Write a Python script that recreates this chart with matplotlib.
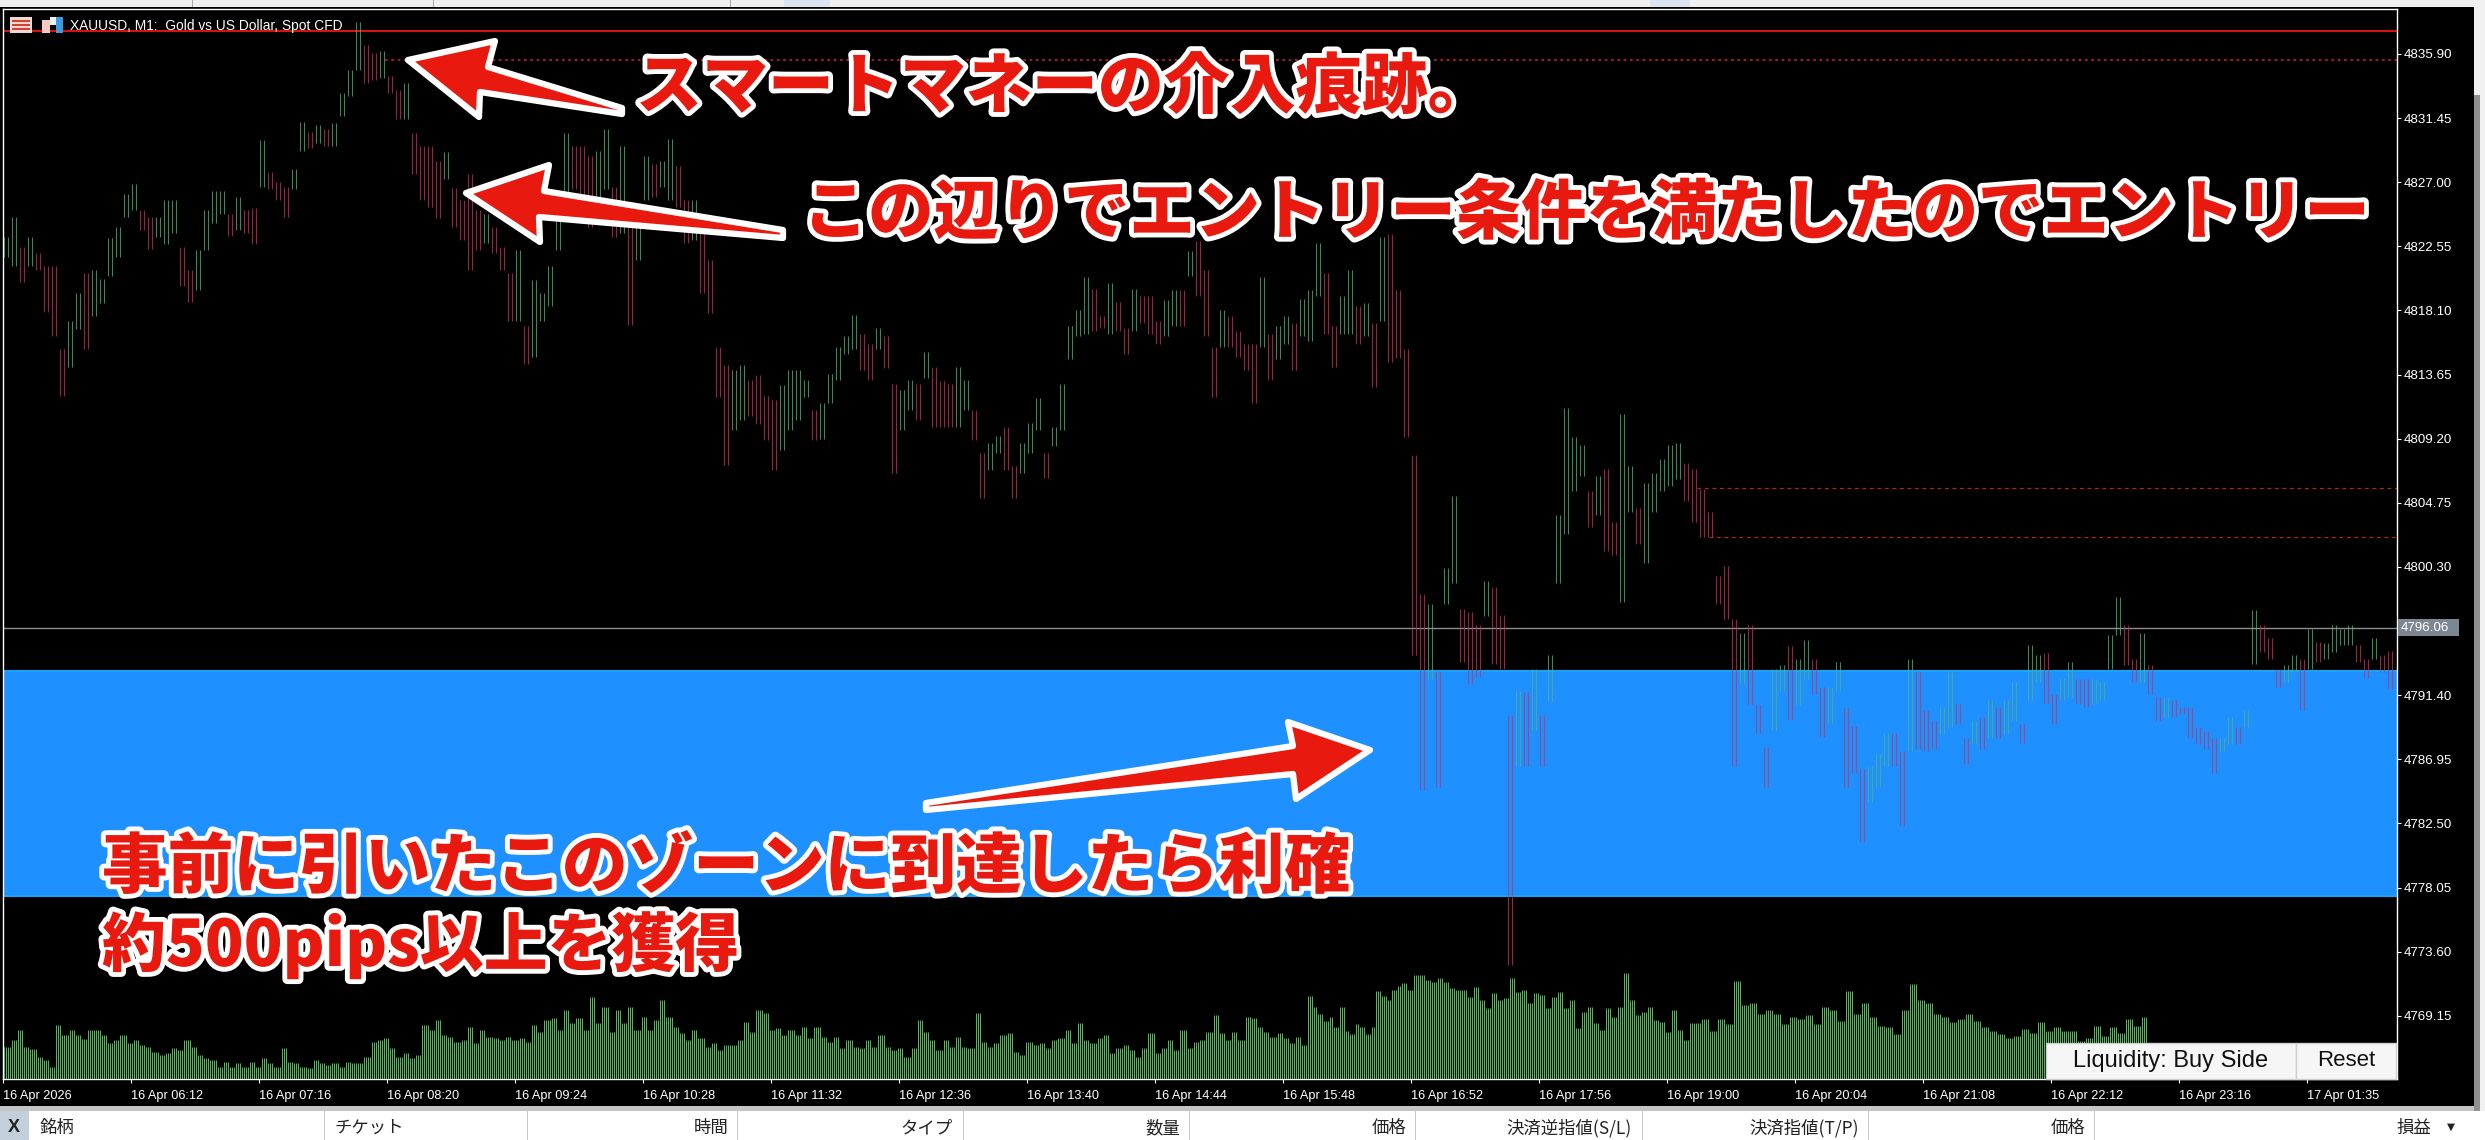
"""
XAUUSD M1 chart with the Japanese trade notes on top.
Prices were read off the picture for every 4th one minute bar, volume in small groups.
"""
import numpy as np
import matplotlib
matplotlib.use('Agg')
import matplotlib.pyplot as plt
from matplotlib.patches import Polygon, Rectangle
import matplotlib.patheffects as pe

JP_FONT = ['Noto Sans CJK JP', 'DejaVu Sans']
UI_FONT = 'Liberation Sans'

# high / low of every 4th bar
bar_high = [
    4823.2, 4824.6, 4822.5, 4823.2, 4822.1, 4821.2, 4821.2, 4815.4, 4817.4, 4819.3, 4820.7, 4820.9, 4820.3, 4823.1, 4823.9, 4826.2,
    4826.9, 4825.1, 4824.6, 4824.6, 4825.8, 4825.8, 4822.5, 4820.9, 4822.3, 4825.1, 4826.4, 4826.4, 4824.8, 4826.0, 4825.1, 4825.2,
    4829.9, 4827.7, 4827.0, 4826.7, 4827.9, 4831.2, 4830.5, 4831.0, 4830.7, 4831.1, 4833.2, 4834.8, 4838.1, 4836.5, 4836.0, 4836.1,
    4834.4, 4833.4, 4833.9, 4830.4, 4829.5, 4829.5, 4828.5, 4829.1, 4826.6, 4825.8, 4827.6, 4825.1, 4824.8, 4823.9, 4822.5, 4820.7,
    4822.3, 4817.0, 4820.2, 4819.3, 4821.2, 4824.6, 4830.4, 4829.5, 4829.5, 4828.8, 4829.2, 4830.7, 4826.7, 4829.5, 4823.9, 4824.8,
    4828.8, 4828.3, 4828.5, 4830.0, 4828.1, 4825.8, 4825.8, 4823.5, 4821.6, 4815.6, 4814.3, 4814.0, 4814.3, 4813.3, 4813.6, 4812.2,
    4811.9, 4812.9, 4814.0, 4814.0, 4813.3, 4811.2, 4811.7, 4813.7, 4815.6, 4816.3, 4817.8, 4816.5, 4815.8, 4816.9, 4816.3, 4813.0,
    4812.6, 4813.3, 4813.0, 4815.2, 4814.2, 4813.2, 4813.0, 4814.2, 4813.3, 4811.2, 4808.2, 4808.9, 4809.4, 4810.0, 4807.3, 4808.9,
    4810.3, 4812.0, 4808.2, 4810.0, 4813.0, 4817.0, 4818.1, 4820.4, 4819.6, 4817.7, 4820.0, 4818.7, 4816.9, 4819.6, 4819.1, 4819.1,
    4817.4, 4818.8, 4819.5, 4819.5, 4822.2, 4822.9, 4820.9, 4815.6, 4818.1, 4817.7, 4816.7, 4815.8, 4815.8, 4820.4, 4816.5, 4817.0,
    4817.7, 4817.2, 4818.9, 4819.5, 4822.8, 4820.7, 4817.0, 4819.1, 4820.9, 4818.4, 4818.6, 4817.2, 4823.2, 4823.4, 4819.5, 4815.4,
    4808.1, 4798.4, 4797.7, 4793.0, 4800.2, 4805.2, 4797.4, 4797.2, 4796.3, 4799.3, 4798.9, 4797.0, 4790.0, 4791.7, 4791.6, 4793.2,
    4790.0, 4794.2, 4803.9, 4811.3, 4809.3, 4808.8, 4805.6, 4806.6, 4807.1, 4803.4, 4810.9, 4807.3, 4804.4, 4806.1, 4806.8, 4807.8,
    4808.8, 4808.9, 4807.5, 4807.1, 4805.7, 4804.1, 4799.7, 4800.4, 4796.7, 4795.7, 4796.3, 4790.7, 4787.8, 4793.2, 4793.5, 4794.8,
    4793.9, 4795.2, 4793.9, 4792.0, 4792.0, 4793.7, 4790.5, 4789.3, 4786.3, 4786.5, 4787.3, 4788.8, 4788.8, 4787.5, 4793.9, 4793.0,
    4790.4, 4789.6, 4790.6, 4793.0, 4790.8, 4788.4, 4789.6, 4789.9, 4791.1, 4790.6, 4791.1, 4792.3, 4789.4, 4794.9, 4794.2, 4794.3,
    4791.5, 4792.6, 4793.7, 4792.5, 4792.5, 4792.5, 4792.3, 4795.6, 4798.2, 4796.3, 4793.9, 4795.7, 4793.5, 4791.3, 4791.2, 4791.1,
    4790.6, 4790.6, 4789.2, 4788.9, 4788.4, 4788.4, 4789.9, 4789.2, 4790.4, 4797.3, 4796.3, 4795.4, 4793.2, 4793.5, 4794.2, 4793.9,
    4796.0, 4795.1, 4795.0, 4796.3, 4796.0, 4796.3, 4794.9, 4793.9, 4795.4, 4794.2, 4794.5,
]
bar_low = [
    4821.8, 4821.2, 4820.1, 4821.2, 4820.9, 4818.0, 4816.3, 4812.2, 4814.2, 4816.8, 4815.4, 4817.7, 4818.6, 4820.5, 4821.8, 4824.6,
    4825.1, 4823.7, 4822.4, 4823.2, 4822.7, 4823.5, 4819.8, 4818.7, 4819.5, 4822.3, 4824.2, 4824.8, 4823.3, 4823.7, 4823.5, 4822.7,
    4826.7, 4826.5, 4825.8, 4824.6, 4826.5, 4829.2, 4829.4, 4829.7, 4829.5, 4829.5, 4831.6, 4833.0, 4834.8, 4833.9, 4834.1, 4834.2,
    4833.2, 4831.4, 4831.4, 4827.6, 4825.8, 4825.3, 4824.5, 4827.2, 4823.9, 4823.0, 4820.9, 4822.3, 4822.8, 4822.1, 4820.9, 4817.4,
    4817.4, 4814.4, 4814.9, 4817.4, 4818.4, 4822.3, 4825.8, 4826.5, 4826.0, 4823.9, 4826.0, 4826.5, 4823.2, 4823.5, 4817.1, 4821.6,
    4825.8, 4826.0, 4826.7, 4825.8, 4825.3, 4822.8, 4823.0, 4819.3, 4817.9, 4812.1, 4807.4, 4809.8, 4810.5, 4810.8, 4810.2, 4809.1,
    4807.0, 4808.4, 4809.8, 4810.5, 4812.1, 4809.1, 4809.2, 4811.7, 4813.3, 4815.1, 4815.4, 4814.0, 4813.3, 4815.4, 4814.1, 4806.8,
    4809.8, 4811.2, 4810.5, 4813.4, 4810.0, 4810.0, 4810.0, 4810.0, 4811.2, 4809.1, 4805.1, 4807.0, 4808.2, 4807.0, 4805.1, 4806.8,
    4808.2, 4809.8, 4806.5, 4808.7, 4809.8, 4814.7, 4816.3, 4816.5, 4816.7, 4816.9, 4816.5, 4816.7, 4815.1, 4816.7, 4817.2, 4816.5,
    4815.8, 4816.3, 4817.0, 4817.0, 4820.5, 4819.1, 4816.3, 4812.1, 4815.6, 4815.6, 4814.9, 4814.0, 4811.7, 4815.6, 4813.3, 4814.7,
    4815.8, 4814.0, 4816.3, 4816.0, 4819.1, 4816.5, 4814.2, 4816.5, 4816.5, 4815.8, 4816.3, 4812.8, 4817.4, 4814.5, 4814.8, 4809.3,
    4794.2, 4784.8, 4792.5, 4785.0, 4797.7, 4799.2, 4793.7, 4792.2, 4792.7, 4796.9, 4793.6, 4793.2, 4772.7, 4786.5, 4786.5, 4789.0,
    4786.5, 4791.0, 4799.2, 4802.6, 4805.6, 4806.6, 4803.1, 4803.9, 4801.4, 4801.1, 4797.9, 4804.1, 4801.9, 4800.6, 4804.1, 4805.6,
    4805.9, 4806.4, 4804.9, 4803.4, 4802.4, 4802.4, 4797.7, 4796.7, 4786.5, 4792.2, 4790.7, 4788.8, 4785.0, 4789.0, 4791.7, 4789.7,
    4790.7, 4792.5, 4791.5, 4788.5, 4789.5, 4791.7, 4785.0, 4786.0, 4781.2, 4784.0, 4785.0, 4786.5, 4786.5, 4782.3, 4787.5, 4787.7,
    4787.5, 4787.7, 4788.7, 4789.2, 4789.4, 4786.6, 4788.0, 4787.7, 4788.4, 4788.4, 4788.7, 4789.6, 4788.1, 4791.1, 4792.3, 4790.8,
    4789.4, 4791.1, 4791.3, 4790.8, 4790.6, 4790.8, 4791.1, 4793.2, 4795.6, 4793.5, 4792.3, 4792.3, 4791.5, 4789.6, 4789.9, 4789.9,
    4790.1, 4788.4, 4788.0, 4787.7, 4786.0, 4787.5, 4788.0, 4788.0, 4789.2, 4793.6, 4794.4, 4793.9, 4792.0, 4792.3, 4793.0, 4790.4,
    4793.2, 4793.7, 4793.9, 4794.4, 4794.9, 4794.9, 4793.7, 4792.6, 4793.9, 4793.0, 4791.8,
]

# tick volume, read in groups, with the bar range each group covers
vol_a = [
    32, 39, 49, 32, 30, 22, 19, 12, 54, 44, 49, 44, 40, 49, 49, 44, 36, 39, 44, 36, 39, 34, 32, 27, 24, 26, 31, 29, 39,
    32, 24, 21, 19, 12, 17, 12, 16, 12, 17, 12, 21, 16, 12, 31, 17, 16, 12, 11, 19, 16, 14, 16, 12, 17, 16, 16, 22,
    37, 39, 41, 31, 22, 26, 21, 24, 54, 49, 59, 44, 42, 37, 39, 52, 36, 49, 42, 41, 39, 42, 39, 41, 37, 54, 47, 59,
    61, 49, 69, 56, 61, 49, 82, 56, 72, 47, 69, 56, 72, 49, 62, 49, 59, 79, 62, 52, 46, 39, 49, 41, 32, 36, 29, 34,
    34, 39, 57, 47, 69, 66, 49, 51, 44, 49, 44, 52, 41, 52, 42, 37, 42, 31, 39, 32, 31, 39, 32, 44, 32, 29, 31, 22, 31,
    59, 47, 39, 29, 39, 32, 42, 32, 31, 66, 37, 32, 36, 44, 46, 27, 24, 37, 34, 36, 31, 39, 41, 49, 36, 56, 39, 36, 41,
    44, 26, 31, 34, 29, 22, 31, 46, 26, 31, 39, 29, 49, 31, 37, 39, 47, 64, 46, 39, 47, 39, 62, 61, 52, 47, 42, 46, 41, 36, 42,
]
vol_b = [34, 83, 72, 65, 58, 62, 52, 72, 48, 45, 55, 52, 45, 52, 88, 83, 79, 89, 93]
vol_c = [
    96, 89, 104, 104, 99, 97, 101, 97, 91, 89, 89, 82, 92, 79, 71, 86, 79, 81, 101, 87, 89, 76, 86, 84, 71,
    82, 87, 71, 79, 51, 67, 72, 56, 49, 71, 62, 72, 106, 79, 64, 67, 72, 59, 57, 47, 69, 49, 39, 56, 56,
]
vol_d = [
    60, 48, 60, 55, 98, 74, 76, 65, 69, 65, 55, 62, 60, 64, 55, 72, 69, 58, 88, 65, 76, 62, 53, 52, 45, 69, 95, 79,
    76, 65, 62, 57, 60, 65, 58, 52, 48, 45, 41, 43, 50, 46, 57, 48, 52, 48, 48, 38, 41, 53, 43, 52, 46, 60, 53, 62,
]
vol_groups = [(0, 649, vol_a), (649, 699, vol_b), (699, 849, vol_c), (849, 1072, vol_d)]

price_ticks = [4835.90, 4831.45, 4827.00, 4822.55, 4818.10, 4813.65, 4809.20, 4804.75, 4800.30,
               4791.40, 4786.95, 4782.50, 4778.05, 4773.60, 4769.15]
time_labels = ['16 Apr 2026', '16 Apr 06:12', '16 Apr 07:16', '16 Apr 08:20', '16 Apr 09:24', '16 Apr 10:28',
               '16 Apr 11:32', '16 Apr 12:36', '16 Apr 13:40', '16 Apr 14:44', '16 Apr 15:48', '16 Apr 16:52',
               '16 Apr 17:56', '16 Apr 19:00', '16 Apr 20:04', '16 Apr 21:08', '16 Apr 22:12', '16 Apr 23:16',
               '17 Apr 01:35']

last_price = 4796.06
zone_top = 4793.08
zone_bottom = 4777.50
high_line = 4837.50
dotted_line = 4835.48
dash_line_1 = 4805.75
dash_line_2 = 4802.40

W, H = 2485, 1140
fig = plt.figure(figsize=(W / 100, H / 100), dpi=100, facecolor='#f0f0f0')


def fx(x):
    return x / W


def fy(y):
    return 1 - y / H


def box(x0, y0, x1, y1, color, z=-1, **kw):
    r = Rectangle((fx(x0), fy(y1)), (x1 - x0) / W, (y1 - y0) / H, transform=fig.transFigure,
                  facecolor=color, edgecolor=kw.pop('edge', 'none'), linewidth=kw.pop('lw', 0), zorder=z)
    fig.add_artist(r)


def put(x, y, s, **kw):
    kw.setdefault('zorder', 6)
    return fig.text(fx(x), fy(y), s, **kw)


# window around the chart
box(0, 7, 2474, 1106, 'black')
box(0, 1106, 2474, 1111, '#c4c4c4')
box(0, 1111, W, H, 'white')
box(2474, 0, W, 1111, '#f0f0f0')
box(2474, 95, 2480, 1111, '#8f8f8f', z=1)
for x in [192, 433, 730]:
    box(x, 0, x + 1, 7, '#a8a8a8')
box(784, 0, 830, 7, '#dce6f2')
box(1650, 0, 1690, 7, '#dce6f2')

ax = fig.add_axes([fx(3), fy(1079), (2397 - 3) / W, (1079 - 9) / H], facecolor='black', zorder=1)
ax.set_xlim(0, 1197)
ax.set_ylim(4835.9 - (1079 - 54) / 14.41, 4835.9 + 45 / 14.41)

# zone
ax.axhspan(zone_bottom, zone_top, facecolor='#1E90FF', edgecolor='none', zorder=1)
ax.axhline(zone_top, color='#18a4f6', lw=1.5, zorder=1.1)
ax.axhline(zone_bottom, color='#18a4f6', lw=1.5, zorder=1.1)

# levels
ax.axhline(high_line, color='#d8120c', lw=1.5, zorder=2)
ax.hlines(dotted_line, 191, 1197, color='#b02020', lw=1.3, linestyles=(0, (1.5, 2)), zorder=2)
ax.hlines(dash_line_1, 847, 1197, color='#a82828', lw=0.9, linestyles=(0, (3, 3)), zorder=2)
ax.hlines(dash_line_2, 853, 1197, color='#a82828', lw=0.9, linestyles=(0, (3, 3)), zorder=2)
ax.axhline(last_price, color='#8c8c8c', lw=1, zorder=2)

# candles, colour from the change of the bar middle; each reading is drawn on two bars so the density is close
high = np.repeat(np.array(bar_high), 2)
low = np.repeat(np.array(bar_low), 2)
print(len(bar_high), len(bar_low))
mid = (high + low) / 2
bar_x = 0.5 + 2 * np.arange(len(high))
up = np.r_[True, mid[1:] > mid[:-1]]
up[1::2] = up[0::2]
ax.vlines(bar_x[~up], low[~up], high[~up], color=(0.78, 0.2, 0.34), alpha=0.75, lw=0.8, zorder=3)
ax.vlines(bar_x[up], low[up], high[up], color=(0.33, 0.7, 0.47), alpha=0.75, lw=0.8, zorder=3)

ax.set_yticks(price_ticks)
ax.set_yticklabels([f'{p:.2f}' for p in price_ticks], fontfamily=UI_FONT, fontsize=9.6, color='white')
ax.yaxis.tick_right()
ax.set_xticks(64 * np.arange(len(time_labels)))
ax.set_xticklabels(time_labels, fontfamily=UI_FONT, fontsize=9.2, color='white', ha='left')
ax.tick_params(axis='both', color='white', length=3, width=0.8, pad=2)
ax.tick_params(axis='x', pad=5)
for s in ax.spines.values():
    s.set_color('white')
    s.set_linewidth(1)

# volume, one pixel bar every minute
vol_ax = fig.add_axes(ax.get_position(), facecolor='none', zorder=1.5)
vol_ax.set_xlim(0, 1197)
vol_ax.set_ylim(0, 1070)
vol_ax.axis('off')
for start, end, vals in vol_groups:
    bars = np.arange(start, end)
    idx = (bars - start) * len(vals) // (end - start)
    vol_ax.vlines(bars + 0.5, 0, np.array(vals)[idx], color='#58b35c', lw=0.72)

# price box
box(2398, 619, 2459, 636, '#7c8791', z=5)
put(2401, 628, f'{last_price:.2f}', fontfamily=UI_FONT, fontsize=9.6, color='white', va='center')

# chart title and icons
put(70, 26, 'XAUUSD, M1:  Gold vs US Dollar, Spot CFD', fontfamily=UI_FONT, fontsize=9.9, color='white', va='center')
box(10, 17, 32, 33, '#f0d8d4', z=5)
for y in [20, 24, 28]:
    box(12, y, 30, y + 2, '#d84030', z=6)
box(42, 20, 50, 33, '#f6c8c0', z=5)
box(50, 17, 56, 25, '#e8f0f8', z=5)
box(56, 17, 63, 33, '#3c9ae0', z=5)

# buttons
box(2046, 1043, 2296, 1079, '#f6f6f6', z=5, edge='#cfcfcf', lw=1)
box(2296, 1043, 2396, 1079, '#f6f6f6', z=5, edge='#cfcfcf', lw=1)
put(2171, 1061, 'Liquidity: Buy Side', fontfamily=UI_FONT, fontsize=17, color='#111111', ha='center', va='center')
put(2346, 1061, 'Reset', fontfamily=UI_FONT, fontsize=16, color='#111111', ha='center', va='center')

# table header
box(0, 1111, 29, H, '#c3d0dc')
put(14, 1127, 'X', fontfamily=UI_FONT, fontsize=13, fontweight='bold', color='#222222', ha='center', va='center')
for x in [324, 527, 737, 963, 1189, 1415, 1642, 1868, 2094]:
    box(x, 1111, x + 1, H, '#c8c8c8')
table_left = [(40, '銘柄'), (334, 'チケット')]
table_right = [(728, '時間'), (953, 'タイプ'), (1180, '数量'), (1406, '価格'), (1632, '決済逆指値(S/L)'),
               (1859, '決済指値(T/P)'), (2085, '価格'), (2431, '損益')]
for x, s in table_left:
    put(x, 1128, s, fontfamily=JP_FONT, fontsize=12.5, color='#222222', va='center')
for x, s in table_right:
    put(x, 1128, s, fontfamily=JP_FONT, fontsize=12.5, color='#222222', ha='right', va='center')
put(2451, 1127, '▼', fontfamily='DejaVu Sans', fontsize=7.5, color='#222222', ha='center', va='center')

# red arrows with white outline, in picture pixels
arrows = [
    [(408, 60), (495, 41), (488, 67), (622, 108), (622, 114), (480, 92), (479, 117)],
    [(466, 193), (549, 165), (544, 191), (783, 230), (783, 238), (539, 217), (540, 242)],
    [(1370, 750), (1288, 722), (1293, 746), (926, 803), (926, 810), (1293, 774), (1296, 799)],
]
for pts in arrows:
    fig.add_artist(Polygon([(fx(x), fy(y)) for x, y in pts], closed=True, transform=fig.transFigure,
                           facecolor='#E8190E', edgecolor='white', linewidth=4.5, joinstyle='round', zorder=7))

# notes
notes = [
    (636, 88, 'スマートマネーの介入痕跡。', 47.5),
    (803, 214, 'この辺りでエントリー条件を満たしたのでエントリー', 47),
    (102, 868, '事前に引いたこのゾーンに到達したら利確', 47.3),
    (102, 945, '約500pips以上を獲得', 46),
]
for x, y, s, size in notes:
    t = put(x, y, s, fontfamily=JP_FONT, fontsize=size, fontweight='black', color='#E8190E', va='center', zorder=8)
    t.set_path_effects([pe.withStroke(linewidth=7, foreground='white')])

fig.savefig('out.png', dpi=100, facecolor=fig.get_facecolor())
plt.close(fig)
